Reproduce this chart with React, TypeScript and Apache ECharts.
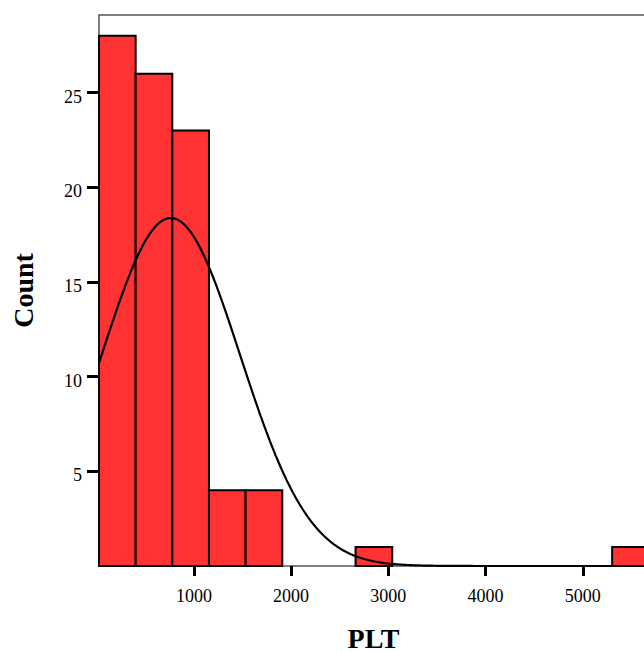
import React, { useEffect, useRef } from "react";
import * as echarts from "echarts";

// Histogram of PLT
const binStart = 24;
const binWidth = 377;
const counts = [28, 26, 23, 4, 4, 0, 0, 1, 0, 0, 0, 0, 0, 0, 1];

// Fitted normal curve statistics
const plotMean = 763;
const plotStdDev = 712;
const plotN = 87;

const xTickValues = [1000, 2000, 3000, 4000, 5000];
const yTickValues = [5, 10, 15, 20, 25];

const xMin = 24;
const xMax = 6000;
const yMax = 29.1;

const FONT = "'Liberation Serif', 'Times New Roman', serif";

export default function App() {
  const ref = useRef<HTMLDivElement>(null);

  useEffect(() => {
    if (!ref.current) return;
    const chart = echarts.init(ref.current, undefined, { renderer: "svg" });

    const barData = counts.map((c, i) => [
      binStart + i * binWidth,
      binStart + (i + 1) * binWidth,
      c,
    ]);

    const curve: number[][] = [];
    for (let x = xMin; x <= xMax; x += 10) {
      const z = (x - plotMean) / plotStdDev;
      const y =
        (plotN * binWidth) / (plotStdDev * Math.sqrt(2 * Math.PI)) *
        Math.exp(-0.5 * z * z);
      curve.push([x, y]);
    }

    chart.setOption({
      animation: false,
      grid: {
        left: 99,
        top: 15,
        width: 581,
        height: 551,
        show: true,
        borderColor: "#555",
        borderWidth: 1.5,
        backgroundColor: "transparent",
      },
      xAxis: {
        type: "value",
        min: xMin,
        max: xMax,
        axisLine: { show: false },
        splitLine: { show: false },
        axisTick: {
          show: true,
          customValues: xTickValues,
          length: 10,
          lineStyle: { color: "#000", width: 3 },
        },
        axisLabel: {
          customValues: xTickValues,
          formatter: (v: number) => String(v),
          margin: 21,
          fontSize: 18,
          fontFamily: FONT,
          color: "#000",
        },
      },
      yAxis: {
        type: "value",
        min: 0,
        max: yMax,
        axisLine: { show: false },
        splitLine: { show: false },
        axisTick: {
          show: true,
          customValues: yTickValues,
          length: 12,
          lineStyle: { color: "#000", width: 3 },
        },
        axisLabel: {
          customValues: yTickValues,
          formatter: (v: number) => String(v),
          margin: 17,
          fontSize: 18,
          fontFamily: FONT,
          color: "#000",
          verticalAlign: "top",
          lineHeight: 8,
        },
      },
      series: [
        {
          type: "custom",
          data: barData,
          encode: { x: [0, 1], y: 2 },
          renderItem: (params: any, api: any) => {
            const x0 = api.value(0);
            const x1 = api.value(1);
            const c = api.value(2);
            if (!c) return null;
            const p0 = api.coord([x0, c]);
            const p1 = api.coord([x1, 0]);
            return {
              type: "rect",
              shape: {
                x: p0[0],
                y: p0[1],
                width: p1[0] - p0[0],
                height: p1[1] - p0[1],
              },
              style: { fill: "#FF3333", stroke: "#000", lineWidth: 2 },
            };
          },
          z: 2,
        },
        {
          type: "line",
          data: curve,
          showSymbol: false,
          symbol: "none",
          lineStyle: { color: "#000", width: 2.2 },
          clip: true,
          z: 3,
        },
      ],
      graphic: [
        {
          type: "text",
          x: 23,
          y: 290.5,
          rotation: Math.PI / 2,
          style: {
            text: "Count",
            font: `bold 28px ${FONT}`,
            fill: "#000",
            align: "center",
            verticalAlign: "middle",
          },
        },
        {
          type: "text",
          x: 373.5,
          y: 638,
          style: {
            text: "PLT",
            font: `bold 28px ${FONT}`,
            fill: "#000",
            align: "center",
            verticalAlign: "middle",
          },
        },
      ],
    });

    return () => chart.dispose();
  }, []);

  return (
    <div
      style={{
        position: "absolute",
        left: 0,
        top: 0,
        width: 644,
        height: 652,
        overflow: "hidden",
        background: "#fff",
      }}
    >
      <div ref={ref} style={{ width: 720, height: 652 }} />
    </div>
  );
}
